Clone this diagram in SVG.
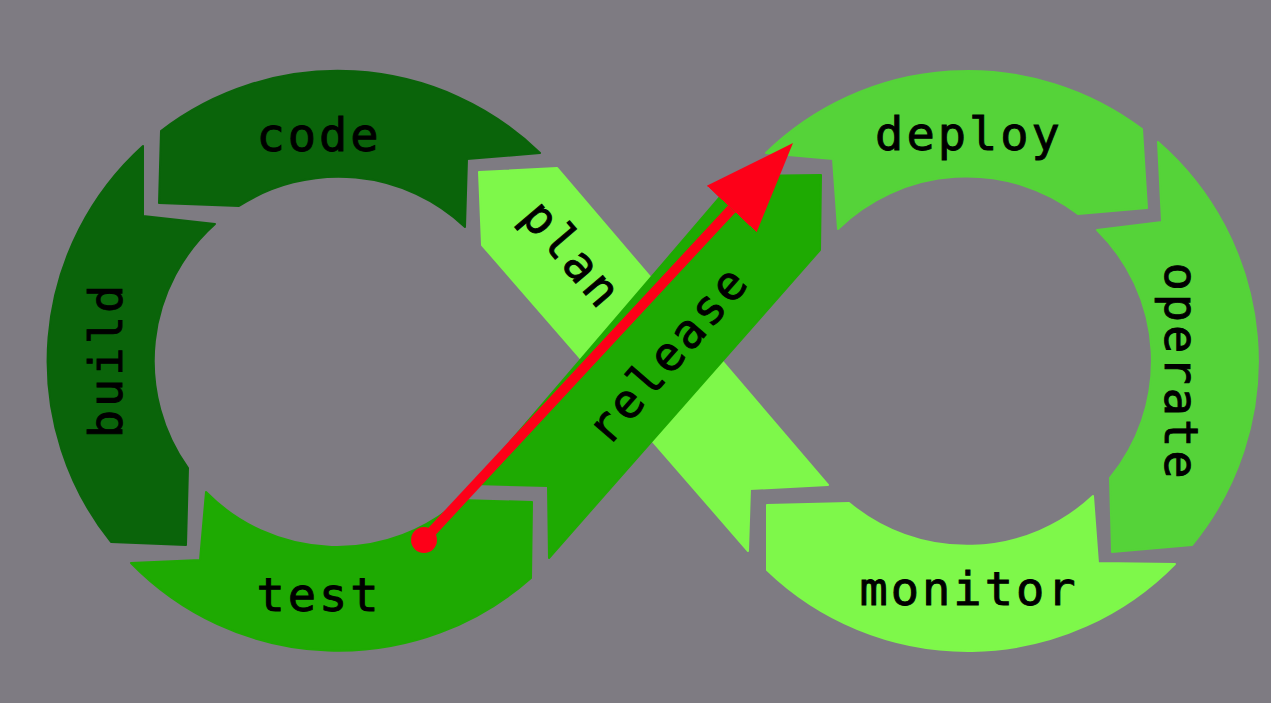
<svg xmlns="http://www.w3.org/2000/svg" width="1271" height="703" viewBox="0 0 1271 703">
<style>
.seg{stroke-width:2;stroke-linejoin:round}
.dark{fill:#0a640a;stroke:#0a640a}
.mid{fill:#1eaa02;stroke:#1eaa02}
.lite{fill:#55d339;stroke:#55d339}
.pale{fill:#7ef84a;stroke:#7ef84a}
.lbl{font-family:"DejaVu Sans Mono","Liberation Mono",monospace;font-size:47px;letter-spacing:3px;fill:#000;stroke:#000;stroke-width:0.9px;text-anchor:middle}
</style>
<defs>
<marker id="head" markerUnits="userSpaceOnUse" markerWidth="92" markerHeight="70" refX="0" refY="34" orient="auto" viewBox="0 0 92 68">
<path d="M0,0 L90,34 L0,68 Z" fill="#fd0018"/>
</marker>
<marker id="dot" markerUnits="userSpaceOnUse" markerWidth="28" markerHeight="28" refX="14" refY="14" viewBox="0 0 28 28">
<circle cx="14" cy="14" r="13" fill="#fd0018"/>
</marker>
</defs>
<rect width="1271" height="703" fill="#7e7b82"/>

<g id="code">
<path class="seg dark" d="M161,131 A290,290 0 0 1 540,153 L467,159 L465,227 A184,184 0 0 0 239,206 L159,203 Z"/>
<text class="lbl" x="319" y="151">code</text>
</g>

<g id="build">
<path class="seg dark" d="M143,146 L143,216 L215,224 A184,184 0 0 0 188,468 L186,545 L111,542 A290,290 0 0 1 143,146 Z"/>
<text class="lbl" transform="translate(122,360) rotate(-90)" x="0" y="0">build</text>
</g>

<g id="test">
<path class="seg mid" d="M131,563 L200,560 L206,492 A184,184 0 0 0 460,500 L532,502 L531,578 A290,290 0 0 1 131,563 Z"/>
<text class="lbl" x="319" y="611">test</text>
</g>

<g id="plan">
<path class="seg pale" d="M479,172 L557,168 L828,485 L750,489 L748,551 L482,245 Z"/>
<text class="lbl" transform="translate(560,265) rotate(49.5)" x="0" y="0">plan</text>
</g>

<g id="deploy">
<path class="seg lite" d="M766,153 L833,159 L838,229 A184,184 0 0 1 1078,214 L1147,208 L1142,129 A290,290 0 0 0 766,153 Z"/>
<text class="lbl" x="969" y="150">deploy</text>
</g>

<g id="operate">
<path class="seg lite" d="M1158,142 L1162,222 L1097,230 A184,184 0 0 1 1110,478 L1112,552 L1192,545 A290,290 0 0 0 1158,142 Z"/>
<text class="lbl" transform="translate(1165,372) rotate(90)" x="0" y="0">operate</text>
</g>

<g id="monitor">
<path class="seg pale" d="M1093,496 L1098,563 L1175,564 A290,290 0 0 1 767,570 L767,505 L849,503 A184,184 0 0 0 1093,496 Z"/>
<text class="lbl" x="969" y="605">monitor</text>
</g>

<g id="release">
<path class="seg mid" d="M474,484 L548,486 L549,558 L820,250 L821,175 L738,176 Z"/>
<text class="lbl" transform="translate(680,365) rotate(-49)" x="0" y="0">release</text>
</g>

<g id="connectors">
<line x1="424" y1="540" x2="731.7" y2="209" stroke="#fd0018" stroke-width="10" marker-start="url(#dot)" marker-end="url(#head)"/>
</g>
</svg>
